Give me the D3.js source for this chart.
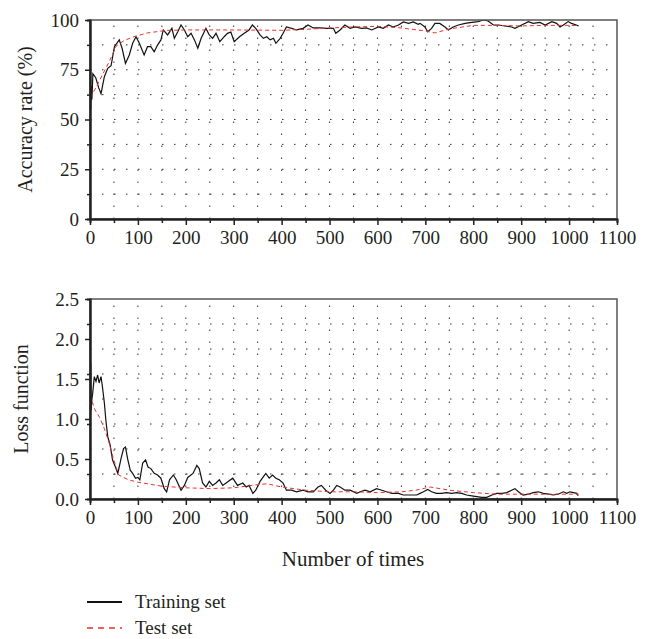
<!DOCTYPE html>
<html lang="en">
<head>
    <meta charset="UTF-8">
    <title>accuracy and loss</title>
    <script type="text/javascript" src="https://cdn.jsdelivr.net/npm/d3@7"></script>
    <style>
        body { margin: 0; background: #fff; }
        svg text { font-family: "Liberation Serif", "DejaVu Serif", serif !important; fill: #231f20; }
        .grid line { stroke: #333; stroke-width: 1; stroke-dasharray: 1.5,10.5; }
        .frame { fill: none; stroke: #555; stroke-width: 1.5; }
        .train { fill: none; stroke: #111; stroke-width: 1.2; }
        .test { fill: none; stroke: #e8322b; stroke-width: 1; stroke-dasharray: 4,3; }
    </style>
</head>
<body>
<svg id="chart" width="653" height="639" font-family="Liberation Serif, serif"></svg>
<script>
    // accuracy, training set
    var trainAccIter = [1.5,2.5,4,6,12,18,23,30,37,44,51,61,67,74,82,89,96,103,113,120,127,134,141,148,153,162,171,176,183,190,197,204,211,218,225,232,242,249,256,263,271,280,287,294,301,312,322,332,339,346,355,362,369,376,383,388,397,403,410,421,431,445,455,466,480,494,508,513,522,532,543,553,567,577,588,602,612,623,633,644,654,665,675,685,689,699,705,713,720,730,741,748,758,769,783,797,810,821,831,842,853,866,880,887,901,915,925,939,950,964,974,981,988,998,1005,1015,1020];
    var trainAccVal = [55,67,60,73,71,66,63,71.5,75.7,77,86.6,90,85.8,78.2,82.4,88.3,91.6,88.3,82.4,86.6,86.6,84,87.4,90,95,92.5,95.8,90.8,94,97.5,95,91.6,93.3,90,85.8,90.8,95.8,92.5,90.8,93.3,89.1,91.6,93.3,94,89.1,91.6,93.3,95,97.5,95.8,92.5,90.8,91.6,90,90.8,88.3,90.8,93.3,96.5,95.8,95,95.8,97.5,96,96,95.8,95.8,93.3,95,97.5,95.8,96.5,95.8,96,95,96.5,95.8,97.5,96.5,97.5,99,98.3,99,97.8,98.3,96.5,94.1,95.8,98.3,98.3,96.5,95,96.5,97.5,98.3,98.8,99.2,100,99.5,97.5,97.5,97,96.5,95.8,97.5,99.2,98.3,98.8,97.5,99.2,98.3,96.5,97.5,99.2,98.3,97.5,97];

    // accuracy, test set
    var testAccIter = [0,10,25,40,55,70,90,120,160,200,300,400,450,500,550,600,650,700,720,750,800,850,900,950,1000,1020];
    var testAccVal = [61,65,72,79,87,89.5,91.5,93.5,94.8,95,95,94.8,95.3,96,96.5,96.8,96,94.5,93.5,95.5,97.3,97.3,97,97.3,97.3,97.2];

    // loss, training set
    var trainLossIter = [1.5,2.5,4,5.6,9,12.5,16,19,23,26,30,33,37,42,47,53,58,61,65,70,74,79,84,89,95,100,104,110,116,121,127,134,141,148,155,160,166,174,180,190,197,204,215,223,228,235,242,249,256,263,270,277,284,298,308,319,326,332,340,346,355,362,367,374,381,388,395,403,410,421,431,445,455,466,476,483,492,501,508,515,522,532,543,557,564,574,585,598,609,619,630,644,654,668,682,689,696,705,713,723,734,744,755,765,776,786,797,807,818,828,839,849,860,870,880,887,894,904,915,925,936,946,957,967,977,988,995,1002,1009,1016,1019];
    var trainLossVal = [1.70,1.11,1.25,1.32,1.53,1.47,1.55,1.45,1.53,1.40,1.20,0.99,0.78,0.675,0.49,0.40,0.32,0.40,0.51,0.63,0.65,0.49,0.36,0.32,0.26,0.27,0.24,0.45,0.49,0.40,0.38,0.32,0.30,0.26,0.13,0.09,0.24,0.30,0.24,0.11,0.17,0.27,0.32,0.42,0.38,0.20,0.15,0.22,0.17,0.20,0.24,0.17,0.20,0.26,0.17,0.20,0.15,0.17,0.07,0.11,0.22,0.28,0.32,0.26,0.30,0.26,0.24,0.20,0.11,0.11,0.09,0.11,0.09,0.09,0.15,0.17,0.11,0.07,0.11,0.17,0.15,0.11,0.11,0.07,0.09,0.11,0.09,0.13,0.11,0.09,0.07,0.07,0.05,0.05,0.05,0.07,0.09,0.12,0.09,0.07,0.07,0.08,0.07,0.08,0.07,0.05,0.04,0.03,0.02,0.02,0.05,0.07,0.07,0.08,0.11,0.13,0.09,0.05,0.06,0.08,0.09,0.07,0.06,0.05,0.06,0.09,0.07,0.09,0.08,0.07,0.04];

    // loss, test set
    var testLossIter = [0,10,20,30,40,50,60,80,100,150,200,250,300,350,370,400,450,500,550,600,650,680,710,750,800,850,900,950,1000,1020];
    var testLossVal = [1.30,1.12,1.02,0.88,0.70,0.48,0.30,0.24,0.21,0.16,0.14,0.13,0.14,0.18,0.19,0.15,0.11,0.09,0.09,0.08,0.09,0.11,0.15,0.11,0.08,0.06,0.06,0.06,0.06,0.06];

    var xTicks = d3.range(0, 1101, 100);
    var accTicks = [0, 25, 50, 75, 100];
    var lossTicks = [0, 0.5, 1.0, 1.5, 2.0, 2.5];
    var legendLabels = ["Training set", "Test set"];

    var FONT = "Liberation Serif, DejaVu Serif, serif";
    var svg = d3.select("#chart");
    var left = 90, right = 617;

    var x = d3.scaleLinear().domain([0, 1100]).range([left, right]);

    function zip(a, b) {
        return a.map(function (d, i) { return [d, b[i]]; });
    }

    function panel(id, top, bottom, yMax, yTicks, fmt, label, labelX, trainSeries, testSeries) {
        var y = d3.scaleLinear().domain([0, yMax]).range([bottom, top]);
        var g = svg.append("g").attr("id", id);
        var minorY = d3.range(0, yMax + 1e-9, yMax / 8);

        g.append("clipPath").attr("id", id + "-clip")
            .append("rect").attr("x", left).attr("y", top)
            .attr("width", right - left).attr("height", bottom - top);

        // dotted grid
        var grid = g.append("g").attr("class", "grid");
        grid.selectAll("line.v")
            .data(d3.range(50, 1100, 50))
            .enter().append("line").attr("class", "v")
            .attr("x1", function (d) { return x(d); })
            .attr("x2", function (d) { return x(d); })
            .attr("y1", bottom).attr("y2", top);
        grid.selectAll("line.h")
            .data(minorY.slice(1, -1))
            .enter().append("line").attr("class", "h")
            .attr("x1", left).attr("x2", right)
            .attr("y1", function (d) { return y(d); })
            .attr("y2", function (d) { return y(d); });

        var line = d3.line()
            .x(function (d) { return x(d[0]); })
            .y(function (d) { return y(d[1]); });

        var plot = g.append("g").attr("clip-path", "url(#" + id + "-clip)");
        plot.append("path").attr("class", "train").attr("d", line(trainSeries));
        plot.append("path").attr("class", "test").attr("d", line(testSeries));

        g.append("rect").attr("class", "frame")
            .attr("x", left).attr("y", top)
            .attr("width", right - left).attr("height", bottom - top);

        // axes
        var xAxis = d3.axisBottom(x).tickValues(xTicks).tickFormat(d3.format("d"))
            .tickSize(6).tickSizeOuter(0).tickPadding(6);
        var xMinor = d3.axisBottom(x).tickValues(d3.range(50, 1100, 100)).tickSize(4).tickFormat("");
        var yAxis = d3.axisLeft(y).tickValues(yTicks).tickFormat(fmt).tickSize(5).tickSizeOuter(0).tickPadding(6);
        var yMinor = d3.axisLeft(y).tickValues(minorY.filter(function (d, i) { return i % 2; })).tickSize(3).tickFormat("");

        [xAxis, xMinor].forEach(function (a) {
            g.append("g").attr("transform", "translate(0," + bottom + ")").call(a).attr("font-family", FONT);
        });
        [yAxis, yMinor].forEach(function (a) {
            g.append("g").attr("transform", "translate(" + left + ",0)").call(a).attr("font-family", FONT);
        });

        g.selectAll(".domain").attr("stroke", "#222").attr("stroke-width", 2);
        g.selectAll(".tick line").attr("stroke", "#222").attr("stroke-width", 1.5);
        g.selectAll(".tick text").style("font-size", "19px").style("font-family", FONT).attr("fill", "#231f20");

        g.append("text")
            .attr("transform", "translate(" + labelX + "," + (top + bottom) / 2 + ") rotate(-90)")
            .attr("text-anchor", "middle")
            .style("font-family", FONT)
            .style("font-size", "20px")
            .text(label);
    }

    panel("acc", 20, 219, 100, accTicks, d3.format("d"), "Accuracy rate (%)", 32,
        zip(trainAccIter, trainAccVal), zip(testAccIter, testAccVal));
    panel("loss", 299, 499, 2.5, lossTicks, d3.format(".1f"), "Loss function", 28,
        zip(trainLossIter, trainLossVal), zip(testLossIter, testLossVal));

    svg.append("text")
        .attr("x", 353).attr("y", 566)
        .attr("text-anchor", "middle")
        .style("font-family", FONT)
        .style("font-size", "21px")
        .text("Number of times");

    // legend
    var legend = svg.append("g").selectAll("g")
        .data(legendLabels)
        .enter().append("g")
        .attr("transform", function (d, i) { return "translate(87," + (602 + i * 26) + ")"; });
    legend.append("line")
        .attr("class", function (d, i) { return i ? "test" : "train"; })
        .attr("x1", 0).attr("x2", 35)
        .style("stroke-width", function (d, i) { return i ? 1.3 : 2; })
        .style("stroke-dasharray", function (d, i) { return i ? "6,5" : null; });
    legend.append("text")
        .attr("x", 48).attr("y", 6)
        .style("font-family", FONT)
        .style("font-size", "19px")
        .text(function (d) { return d; });
</script>
</body>
</html>
